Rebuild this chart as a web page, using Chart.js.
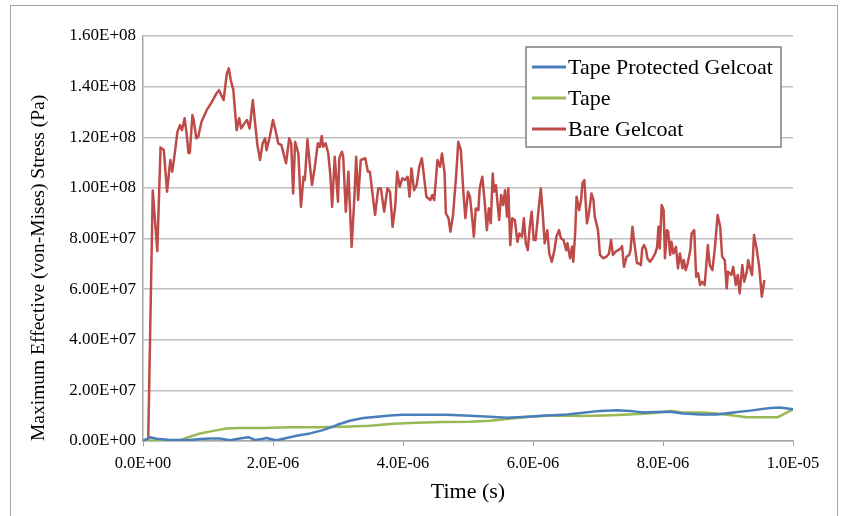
<!DOCTYPE html>
<html>
<head>
<meta charset="utf-8">
<script src="https://cdn.jsdelivr.net/npm/chart.js@4.4.0/dist/chart.umd.min.js"></script>
<style>
  html, body { margin: 0; padding: 0; background: #fff; }
  #wrap { position: relative; width: 844px; height: 516px; }
  #frame { position: absolute; left: 10px; top: 5px; width: 828px; height: 540px; border: 1.5px solid #a6a6a6; box-sizing: border-box; pointer-events: none; }
</style>
</head>
<body>
<div id="wrap">
  <canvas id="chart" width="844" height="516"></canvas>
  <div id="frame"></div>
</div>
<script>
// Tempo em microssegundos, tensao em MPa
const protectedTime = [0, 0.11, 0.21, 0.42, 0.57, 0.72, 0.88, 1.03, 1.18, 1.34, 1.49, 1.62, 1.72, 1.83, 1.90, 1.98, 2.06, 2.21, 2.36, 2.57, 2.77, 2.98, 3.18, 3.39, 3.60, 3.80, 4.00, 4.31, 4.67, 5.03, 5.34, 5.60, 5.90, 6.21, 6.52, 6.77, 7.03, 7.29, 7.49, 7.70, 7.90, 8.11, 8.31, 8.57, 8.83, 9.08, 9.34, 9.65, 9.80, 10.0];
const protectedStress = [0, 1.5, 0.9, 0.4, 0.4, 0.4, 0.8, 1.0, 1.0, 0.3, 1.0, 1.5, 0.4, 0.8, 1.2, 0.7, 0.3, 1.2, 2.1, 3.0, 4.3, 6.3, 8.0, 9.1, 9.6, 10.1, 10.4, 10.4, 10.4, 10.0, 9.6, 9.2, 9.6, 10.1, 10.5, 11.2, 11.9, 12.1, 11.9, 11.3, 11.5, 11.6, 10.9, 10.5, 10.5, 11.3, 12.0, 13.0, 13.2, 12.5];

const tapeTime = [0, 0.21, 0.42, 0.57, 0.72, 0.88, 1.08, 1.29, 1.49, 1.85, 2.26, 2.67, 3.08, 3.49, 3.85, 4.21, 4.62, 5.03, 5.34, 5.60, 5.90, 6.21, 6.52, 6.77, 7.08, 7.39, 7.70, 7.90, 8.11, 8.31, 8.62, 8.83, 9.08, 9.29, 9.54, 9.77, 10.0];
const tapeStress = [0, 0.3, 0.3, 0.3, 1.7, 3.0, 4.0, 4.9, 5.1, 5.1, 5.4, 5.4, 5.6, 6.0, 6.8, 7.2, 7.5, 7.6, 8.0, 8.7, 9.5, 10.0, 10.1, 9.9, 10.1, 10.4, 10.8, 11.2, 11.9, 11.3, 11.3, 10.9, 10.1, 9.4, 9.4, 9.4, 12.5];

const bareTime = [0, 0.08, 0.15, 0.22, 0.27, 0.32, 0.37, 0.42, 0.45, 0.49, 0.53, 0.57, 0.60, 0.64, 0.67, 0.70, 0.72, 0.76, 0.78, 0.82,
  0.85, 0.90, 0.98, 1.06, 1.13, 1.17, 1.24, 1.29, 1.32, 1.35, 1.39, 1.44, 1.48, 1.51, 1.56, 1.60, 1.64, 1.69, 1.72, 1.76,
  1.80, 1.84, 1.88, 1.90, 1.95, 2.00, 2.05, 2.08, 2.13, 2.20, 2.25, 2.28, 2.31, 2.34, 2.39, 2.43, 2.47, 2.49, 2.53, 2.57,
  2.60, 2.64, 2.69, 2.72, 2.75, 2.77, 2.81, 2.85, 2.88, 2.91, 2.95, 3.00, 3.02, 3.06, 3.08, 3.12, 3.16, 3.21, 3.25, 3.28,
  3.31, 3.35, 3.42, 3.46, 3.49, 3.53, 3.57, 3.62, 3.66, 3.71, 3.76, 3.80, 3.84, 3.88, 3.91, 3.95, 3.99, 4.03, 4.07, 4.10,
  4.13, 4.17, 4.21, 4.25, 4.29, 4.33, 4.36, 4.42, 4.45, 4.48, 4.53, 4.57, 4.60, 4.64, 4.66, 4.70, 4.73, 4.77, 4.82, 4.85,
  4.89, 4.93, 4.96, 5.00, 5.03, 5.07, 5.09, 5.12, 5.16, 5.18, 5.22, 5.25, 5.29, 5.32, 5.35, 5.38, 5.40, 5.43, 5.45, 5.48,
  5.51, 5.54, 5.57, 5.60, 5.62, 5.65, 5.68, 5.72, 5.76, 5.79, 5.83, 5.86, 5.89, 5.92, 5.95, 5.98, 6.01, 6.04, 6.08, 6.12,
  6.15, 6.18, 6.22, 6.25, 6.29, 6.33, 6.36, 6.40, 6.43, 6.47, 6.51, 6.53, 6.57, 6.60, 6.62, 6.65, 6.67, 6.71, 6.74, 6.76,
  6.79, 6.83, 6.86, 6.90, 6.93, 6.95, 7.00, 7.03, 7.08, 7.13, 7.17, 7.20, 7.23, 7.27, 7.31, 7.35, 7.37, 7.40, 7.44, 7.48,
  7.50, 7.53, 7.56, 7.60, 7.63, 7.66, 7.68, 7.71, 7.74, 7.76, 7.80, 7.84, 7.88, 7.91, 7.93, 7.95, 7.98, 8.01, 8.03, 8.06,
  8.08, 8.11, 8.13, 8.16, 8.20, 8.23, 8.26, 8.30, 8.32, 8.35, 8.38, 8.42, 8.44, 8.48, 8.51, 8.54, 8.57, 8.60, 8.64, 8.66,
  8.69, 8.72, 8.76, 8.80, 8.84, 8.88, 8.91, 8.95, 8.98, 9.00, 9.05, 9.08, 9.12, 9.15, 9.18, 9.22, 9.25, 9.29, 9.31, 9.34,
  9.37, 9.40, 9.44, 9.48, 9.52, 9.56];
const bareStress = [0, 0, 99, 75, 116, 115, 98.5, 111, 106.4, 113.8, 122.2, 124.8, 122.8, 127.5, 121.7, 113.8, 113.8, 128.8, 126.8, 119.6,
  120.2, 126.1, 130.7, 134.0, 137.3, 138.6, 134.7, 145.2, 147.2, 142.6, 138.6, 122.8, 127.5, 123.5, 125.5, 126.8, 123.5, 134.7, 126.8, 116.9,
  111.0, 117.6, 119.6, 114.9, 120.2, 126.8, 121.5, 117.6, 116.9, 109.7, 119.6, 117.6, 97.8, 118.2, 113.6, 92.5, 104.4, 103.1, 119.2, 108.3,
  101.1, 107.7, 117.6, 116.2, 120.5, 116.2, 117.6, 113.6, 105.7, 92.5, 112.3, 94.5, 111.7, 114.3, 112.3, 90.6, 106.4, 76.7, 95.2, 112.3,
  95.2, 111.0, 111.7, 106.4, 106.4, 97.8, 89.3, 99.8, 99.8, 90.6, 99.8, 98.5, 84.6, 92.5, 106.4, 100.4, 103.8, 103.1, 104.4, 96.5,
  107.7, 99.1, 101.1, 108.3, 111.7, 103.1, 96.5, 95.2, 97.2, 95.2, 111.0, 108.3, 113.6, 105.7, 89.9, 88.0, 82.7, 89.3, 105.7, 118.2,
  114.9, 97.8, 88.0, 98.5, 96.5, 86.6, 80.7, 91.9, 91.2, 99.8, 104.4, 96.5, 83.3, 91.9, 86.0, 105.7, 98.5, 101.1, 95.2, 87.3,
  97.2, 93.2, 99.1, 88.6, 99.8, 77.4, 88.0, 87.3, 78.7, 82.0, 80.7, 88.0, 78.1, 75.4, 84.6, 90.6, 79.4, 79.4, 89.9, 99.8,
  89.9, 78.1, 83.3, 74.1, 70.8, 75.4, 80.7, 83.3, 80.1, 79.4, 75.4, 78.1, 72.2, 76.7, 70.8, 82.7, 96.5, 91.2, 95.2, 101.8,
  103.1, 86.0, 89.9, 97.8, 95.2, 88.6, 83.3, 73.5, 72.2, 72.8, 74.1, 79.4, 73.5, 74.8, 75.4, 76.1, 77.0, 68.8, 72.8, 73.5,
  75.4, 84.6, 78.1, 70.2, 70.2, 69.5, 76.1, 77.4, 75.4, 72.2, 70.8, 72.2, 74.1, 76.7, 84.6, 76.1, 93.2, 91.2, 72.2, 83.3,
  82.7, 73.5, 78.7, 74.1, 76.7, 68.2, 74.1, 68.2, 71.5, 67.5, 70.2, 75.4, 82.0, 83.3, 64.9, 66.2, 61.6, 62.9, 61.6, 67.5,
  77.4, 69.5, 67.5, 76.7, 89.3, 84.6, 72.8, 71.5, 60.3, 66.9, 65.6, 68.8, 61.6, 65.6, 58.3, 69.5, 62.9, 66.9, 71.5, 68.2,
  65.6, 81.4, 76.1, 68.8, 57.0, 63.6];

const seriesNames = ['Tape Protected Gelcoat', 'Tape', 'Bare Gelcoat'];
const seriesColors = ['#4a7ebb', '#98b954', '#be4b48'];

// Converte µs/MPa para s/Pa
function toPoints(times, stresses) {
    return times.map((t, i) => ({ x: t * 1e-6, y: stresses[i] * 1e6 }));
}

// Formato estilo Excel: 1.60E+08
function excelExp(v, digits) {
    if (v === 0) return (0).toFixed(digits) + 'E+00';
    const parts = v.toExponential(digits).split('e');
    const exp = parseInt(parts[1], 10);
    const sign = exp < 0 ? '-' : '+';
    return parts[0].toUpperCase() + 'E' + sign + String(Math.abs(exp)).padStart(2, '0');
}

const serif = "'Liberation Serif', 'Times New Roman', serif";

// Legenda com caixa (estilo Excel), desenhada no canvas
const boxedLegend = {
    id: 'boxedLegend',
    afterDraw(chart) {
        const c = chart.ctx;
        const x = 526, y = 47, w = 255, h = 100;
        c.save();
        c.fillStyle = '#fff';
        c.fillRect(x, y, w, h);
        c.strokeStyle = '#7f7f7f';
        c.lineWidth = 1.5;
        c.strokeRect(x, y, w, h);
        c.font = '22px ' + serif;
        c.textBaseline = 'middle';
        c.fillStyle = '#000';
        chart.data.datasets.forEach((ds, i) => {
            const ly = y + 20 + i * 31;
            c.strokeStyle = ds.borderColor;
            c.lineWidth = 3;
            c.beginPath();
            c.moveTo(x + 6, ly);
            c.lineTo(x + 40, ly);
            c.stroke();
            c.fillText(ds.label, x + 42, ly + 1);
        });
        c.restore();
    }
};

const ctx = document.getElementById('chart').getContext('2d');
new Chart(ctx, {
    type: 'line',
    data: {
        datasets: [
            { label: seriesNames[0], data: toPoints(protectedTime, protectedStress), borderColor: seriesColors[0], borderWidth: 2.5 },
            { label: seriesNames[1], data: toPoints(tapeTime, tapeStress), borderColor: seriesColors[1], borderWidth: 2.5 },
            { label: seriesNames[2], data: toPoints(bareTime, bareStress), borderColor: seriesColors[2], borderWidth: 2.5 }
        ]
    },
    options: {
        responsive: false,
        animation: false,
        elements: { point: { radius: 0 }, line: { tension: 0, borderJoinStyle: 'round' } },
        layout: { padding: { top: 36, right: 51, left: 0, bottom: 0 } },
        plugins: { legend: { display: false }, tooltip: { enabled: false } },
        scales: {
            x: {
                type: 'linear',
                min: 0,
                max: 1e-5,
                afterFit: s => { s.height = 75; },
                afterBuildTicks: s => { s.ticks = [0, 2e-6, 4e-6, 6e-6, 8e-6, 1e-5].map(v => ({ value: v })); },
                border: { color: '#a6a6a6', width: 1.5 },
                grid: { drawOnChartArea: false, color: '#a6a6a6', tickLength: 5 },
                ticks: { color: '#000', font: { family: serif, size: 16.5 }, padding: 8, maxRotation: 0, callback: v => excelExp(v, 1) },
                title: { display: true, text: 'Time (s)', color: '#000', font: { family: serif, size: 22 }, padding: { top: 0, bottom: 11 } }
            },
            y: {
                min: 0,
                max: 1.6e8,
                afterFit: s => { s.width = 143; },
                afterBuildTicks: s => { s.ticks = [0, 2e7, 4e7, 6e7, 8e7, 1e8, 1.2e8, 1.4e8, 1.6e8].map(v => ({ value: v })); },
                border: { color: '#a6a6a6', width: 1.5 },
                grid: { color: '#c0c0c0', lineWidth: 1.5, tickLength: 0 },
                ticks: { color: '#000', font: { family: serif, size: 17 }, padding: 7, callback: v => excelExp(v, 2) },
                title: { display: true, align: 'start', text: 'Maximum Effective (von-Mises) Stress (Pa)', color: '#000', font: { family: serif, size: 19.5 }, padding: { top: 27, bottom: 0 } }
            }
        }
    },
    plugins: [boxedLegend]
});
</script>
</body>
</html>
